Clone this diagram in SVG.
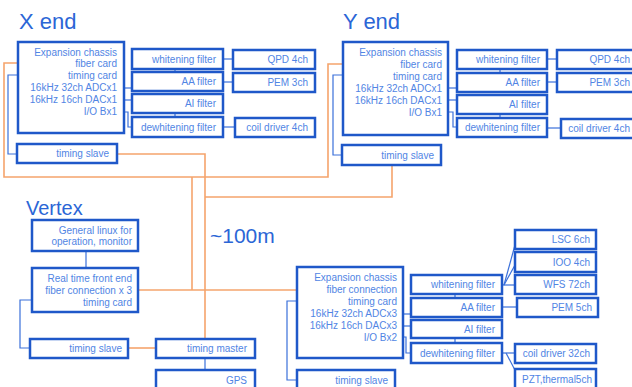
<svg xmlns="http://www.w3.org/2000/svg" width="632" height="387" viewBox="0 0 632 387">
<style>
.b{fill:#fff;stroke:#1f58c9;stroke-width:2.5}
.t{font-family:"Liberation Sans",Arial,sans-serif;font-size:10px;fill:#5185e4;text-anchor:end}
.h{font-family:"Liberation Sans",Arial,sans-serif;fill:#2b66d6}
.bl{fill:none;stroke:#3a70da;stroke-width:1.2}
.or{fill:none;stroke:#f5a46c;stroke-width:1.6}
</style>
<rect width="632" height="387" fill="#fff"/>
<text class="h" x="19" y="29" font-size="22">X end</text>
<text class="h" x="343" y="29" font-size="22">Y end</text>
<text class="h" x="26" y="215" font-size="20">Vertex</text>
<text class="h" x="210" y="243" font-size="21">~100m</text>

<g id="connectors">
<polyline class="or" points="117,154 205,154 205,339"/>
<polyline class="or" points="205,197 392,197 392,165"/>
<polyline class="or" points="43,63 4,63 4,177 328,177 328,64 362,64"/>
<polyline class="or" points="192,177 192,290"/>
<polyline class="or" points="139,290 318,290"/>
<polyline class="or" points="128,348 156,348"/>
<polyline class="bl" points="67,75 8,75 8,154 17,154"/>
<line class="bl" x1="118" y1="88" x2="132" y2="88"/>
<line class="bl" x1="118" y1="100" x2="132" y2="100"/>
<polyline class="bl" points="118,112 128,112 128,127 132,127"/>
<line class="bl" x1="175" y1="69" x2="175" y2="72"/>
<line class="bl" x1="175" y1="113" x2="175" y2="117"/>
<line class="bl" x1="223" y1="59" x2="233" y2="59"/>
<line class="bl" x1="223" y1="82" x2="233" y2="82"/>
<line class="bl" x1="223" y1="127" x2="235" y2="127"/>
<polyline class="bl" points="392,75 333,75 333,155 342,155"/>
<line class="bl" x1="443" y1="88" x2="457" y2="88"/>
<line class="bl" x1="443" y1="100" x2="457" y2="100"/>
<polyline class="bl" points="443,112 453,112 453,127 457,127"/>
<line class="bl" x1="500" y1="69" x2="500" y2="73"/>
<line class="bl" x1="500" y1="114" x2="500" y2="118"/>
<line class="bl" x1="547" y1="59" x2="557" y2="59"/>
<line class="bl" x1="547" y1="82" x2="557" y2="82"/>
<line class="bl" x1="547" y1="128" x2="561" y2="128"/>
<line class="bl" x1="86" y1="251" x2="86" y2="268"/>
<polyline class="bl" points="85,300 20,300 20,348 30,348"/>
<line class="bl" x1="205" y1="358" x2="205" y2="370"/>
<polyline class="bl" points="348,301 287,301 287,380 297,380"/>
<line class="bl" x1="398" y1="314" x2="411" y2="314"/>
<line class="bl" x1="398" y1="326" x2="411" y2="326"/>
<polyline class="bl" points="398,337 406,337 406,353 411,353"/>
<line class="bl" x1="455" y1="294" x2="455" y2="298"/>
<line class="bl" x1="455" y1="338" x2="455" y2="343"/>
<line class="bl" x1="502" y1="285" x2="515" y2="285"/>
<line class="bl" x1="504" y1="285" x2="515" y2="245"/>
<line class="bl" x1="504" y1="285" x2="515" y2="265"/>
<line class="bl" x1="502" y1="307" x2="517" y2="307"/>
<line class="bl" x1="502" y1="353" x2="515" y2="353"/>
<line class="bl" x1="506" y1="353" x2="516" y2="372"/>
</g>

<g id="x-chassis"><rect class="b" x="18" y="42" width="106" height="91"/>
<text class="t" x="117" y="56">Expansion chassis</text>
<text class="t" x="117" y="67">fiber card</text>
<text class="t" x="117" y="79">timing card</text>
<text class="t" x="117" y="91">16kHz 32ch ADCx1</text>
<text class="t" x="117" y="103">16kHz 16ch DACx1</text>
<text class="t" x="117" y="115">I/O Bx1</text></g>
<g id="x-whitening"><rect class="b" x="132" y="49" width="91" height="20"/><text class="t" x="216" y="63">whitening filter</text></g>
<g id="x-aa"><rect class="b" x="132" y="72" width="91" height="19"/><text class="t" x="216" y="85">AA filter</text></g>
<g id="x-ai"><rect class="b" x="132" y="94" width="91" height="19"/><text class="t" x="216" y="107">AI filter</text></g>
<g id="x-dewhitening"><rect class="b" x="132" y="117" width="91" height="20"/><text class="t" x="216" y="131">dewhitening filter</text></g>
<g id="x-qpd"><rect class="b" x="233" y="50" width="82" height="19"/><text class="t" x="308" y="63">QPD 4ch</text></g>
<g id="x-pem"><rect class="b" x="233" y="73" width="82" height="19"/><text class="t" x="308" y="86">PEM 3ch</text></g>
<g id="x-coil"><rect class="b" x="235" y="118" width="80" height="19"/><text class="t" x="308" y="131">coil driver 4ch</text></g>
<g id="x-timing-slave"><rect class="b" x="17" y="144" width="100" height="19"/><text class="t" x="109" y="157">timing slave</text></g>

<g id="y-chassis"><rect class="b" x="343" y="42" width="105" height="93"/>
<text class="t" x="442" y="56">Expansion chassis</text>
<text class="t" x="442" y="68">fiber card</text>
<text class="t" x="442" y="80">timing card</text>
<text class="t" x="442" y="92">16kHz 32ch ADCx1</text>
<text class="t" x="442" y="104">16kHz 16ch DACx1</text>
<text class="t" x="442" y="116">I/O Bx1</text></g>
<g id="y-whitening"><rect class="b" x="457" y="50" width="90" height="19"/><text class="t" x="540" y="63">whitening filter</text></g>
<g id="y-aa"><rect class="b" x="457" y="73" width="90" height="19"/><text class="t" x="540" y="86">AA filter</text></g>
<g id="y-ai"><rect class="b" x="457" y="95" width="90" height="19"/><text class="t" x="540" y="108">AI filter</text></g>
<g id="y-dewhitening"><rect class="b" x="457" y="118" width="90" height="19"/><text class="t" x="540" y="131">dewhitening filter</text></g>
<g id="y-qpd"><rect class="b" x="557" y="50" width="82" height="19"/><text class="t" x="630" y="63">QPD 4ch</text></g>
<g id="y-pem"><rect class="b" x="557" y="73" width="82" height="19"/><text class="t" x="630" y="86">PEM 3ch</text></g>
<g id="y-coil"><rect class="b" x="561" y="119" width="80" height="19"/><text class="t" x="630" y="132">coil driver 4ch</text></g>
<g id="y-timing-slave"><rect class="b" x="342" y="145" width="99" height="20"/><text class="t" x="434" y="159">timing slave</text></g>

<g id="v-linux"><rect class="b" x="32" y="220" width="106" height="31"/>
<text class="t" x="132" y="234">General linux for</text>
<text class="t" x="132" y="245">operation, monitor</text></g>
<g id="v-realtime"><rect class="b" x="32" y="268" width="106" height="44"/>
<text class="t" x="132" y="282">Real time front end</text>
<text class="t" x="132" y="294">fiber connection x 3</text>
<text class="t" x="132" y="306">timing card</text></g>
<g id="v-timing-slave"><rect class="b" x="30" y="339" width="98" height="19"/><text class="t" x="122" y="352">timing slave</text></g>
<g id="v-timing-master"><rect class="b" x="156" y="339" width="99" height="19"/><text class="t" x="247" y="352">timing master</text></g>
<g id="v-gps"><rect class="b" x="156" y="370" width="99" height="22"/><text class="t" x="247" y="384">GPS</text></g>

<g id="c-chassis"><rect class="b" x="297" y="267" width="106" height="91"/>
<text class="t" x="397" y="281">Expansion chassis</text>
<text class="t" x="397" y="293">fiber connection</text>
<text class="t" x="397" y="305">timing card</text>
<text class="t" x="397" y="317">16kHz 32ch ADCx3</text>
<text class="t" x="397" y="329">16kHz 16ch DACx3</text>
<text class="t" x="397" y="341">I/O Bx2</text></g>
<g id="c-whitening"><rect class="b" x="411" y="275" width="91" height="19"/><text class="t" x="495" y="288">whitening filter</text></g>
<g id="c-aa"><rect class="b" x="411" y="298" width="91" height="19"/><text class="t" x="495" y="311">AA filter</text></g>
<g id="c-ai"><rect class="b" x="411" y="320" width="91" height="18"/><text class="t" x="495" y="333">AI filter</text></g>
<g id="c-dewhitening"><rect class="b" x="411" y="343" width="91" height="20"/><text class="t" x="495" y="357">dewhitening filter</text></g>
<g id="c-lsc"><rect class="b" x="515" y="230" width="81" height="19"/><text class="t" x="590" y="243">LSC 6ch</text></g>
<g id="c-ioo"><rect class="b" x="515" y="252" width="81" height="20"/><text class="t" x="590" y="266">IOO 4ch</text></g>
<g id="c-wfs"><rect class="b" x="515" y="275" width="81" height="19"/><text class="t" x="590" y="288">WFS 72ch</text></g>
<g id="c-pem"><rect class="b" x="517" y="298" width="81" height="19"/><text class="t" x="592" y="311">PEM 5ch</text></g>
<g id="c-coil"><rect class="b" x="515" y="344" width="81" height="19"/><text class="t" x="590" y="357">coil driver 32ch</text></g>
<g id="c-pzt"><rect class="b" x="515" y="369" width="81" height="22"/><text class="t" x="592" y="383">PZT,thermal5ch</text></g>
<g id="c-timing-slave"><rect class="b" x="297" y="370" width="98" height="22"/><text class="t" x="388" y="384">timing slave</text></g>
</svg>
